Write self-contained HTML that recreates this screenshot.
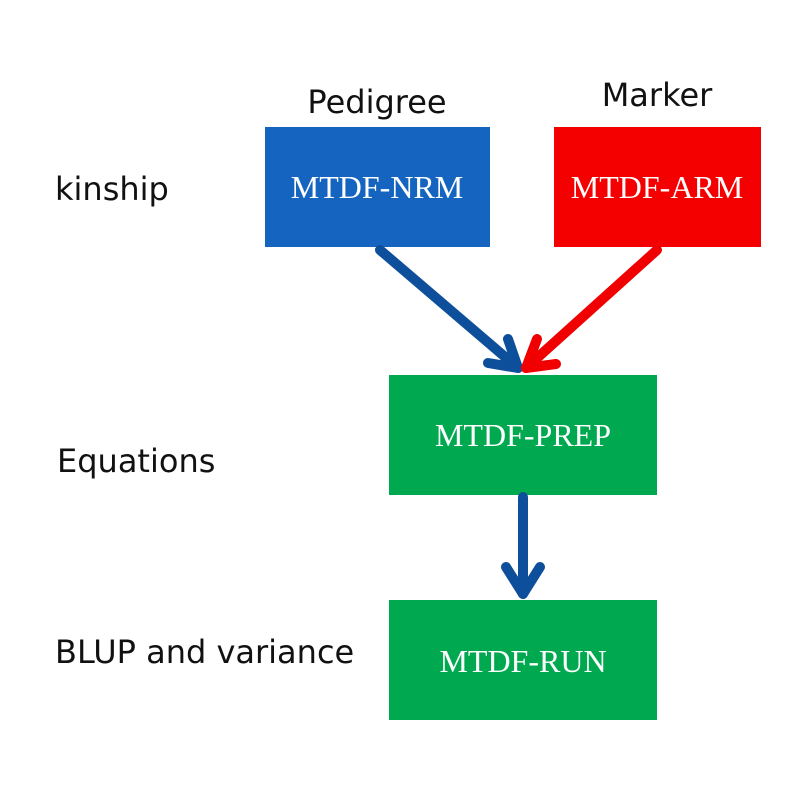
<!DOCTYPE html>
<html><head><style>
body{margin:0;background:#fff;}
</style></head><body>
<svg width="793" height="793" viewBox="0 0 793 793" xmlns="http://www.w3.org/2000/svg">
<rect width="793" height="793" fill="#fff"/>
<g font-family="DejaVu Sans, sans-serif" font-size="32" fill="#111">
<text x="377" y="113" text-anchor="middle">Pedigree</text>
<text x="657" y="106" text-anchor="middle">Marker</text>
<text x="55" y="200">kinship</text>
<text x="57" y="472">Equations</text>
<text x="55" y="663">BLUP and variance</text>
</g>
<rect x="265" y="127" width="225" height="120" fill="#1565c0"/>
<rect x="554" y="127" width="207" height="120" fill="#f50000"/>
<rect x="389" y="375" width="268" height="120" fill="#00a84f"/>
<rect x="389" y="600" width="268" height="120" fill="#00a84f"/>
<g font-family="Liberation Serif, serif" font-size="32" fill="#fff" text-anchor="middle">
<text x="377" y="198">MTDF-NRM</text>
<text x="657" y="198">MTDF-ARM</text>
<text x="523" y="446">MTDF-PREP</text>
<text x="523" y="672">MTDF-RUN</text>
</g>
<g fill="none" stroke-width="10" stroke-linecap="round" stroke-linejoin="round">
<path d="M380 250 L518 368" stroke="#0d4f9a"/>
<path d="M488 363 L518 368 L508 339" stroke="#0d4f9a"/>
<path d="M657 250 L526 368" stroke="#f00000"/>
<path d="M537 339 L526 368 L556 364" stroke="#f00000"/>
<path d="M523 497 L523 594" stroke="#0d4f9a"/>
<path d="M506 567 L523 594 L540 567" stroke="#0d4f9a"/>
</g>
</svg>
</body></html>
